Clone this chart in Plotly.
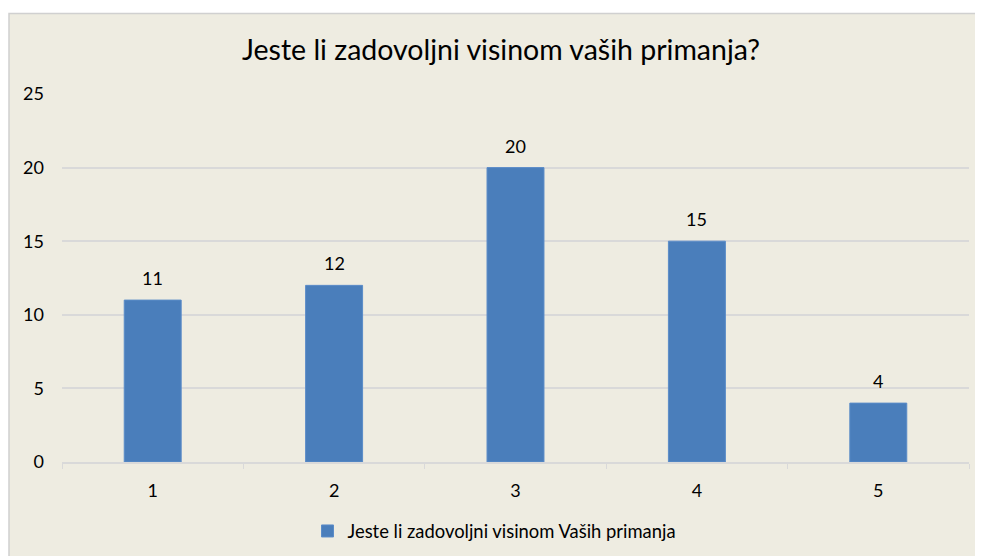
import plotly.graph_objects as go

categories = ["1", "2", "3", "4", "5"]
values = [11, 12, 20, 15, 4]
series_name = "Jeste li zadovoljni visinom Vaših primanja"
title_text = "Jeste li zadovoljni visinom vaših primanja?"
y_ticks = [0, 5, 10, 15, 20, 25]

FONT = "Lato"
BG = "#EEECE1"
BAR = "#4A7EBB"
GRID = "#D9D9D9"

# page body has an 8px margin -> figure is drawn at (8, 8)
W, H = 975, 548
L, R, T, B = 54, 14, 86, 94
PW, PH = W - L - R, H - T - B

fig = go.Figure()
fig.add_trace(go.Bar(
    x=categories, y=values, name=series_name,
    marker=dict(color=BAR, line=dict(color="#5B8CC8", width=1)),
    showlegend=True,
))

for i, v in enumerate(values):
    fig.add_annotation(x=i, y=v, text=str(v), showarrow=False,
                       yanchor="bottom", yshift=9,
                       font=dict(family=FONT, size=18, color="#000000"))

fig.add_shape(type="rect", xref="paper", yref="paper",
              x0=(1 - L) / PW, x1=(W + 10 - L) / PW,
              y0=-(B + 10) / PH, y1=1 + (T - 5.5) / PH,
              fillcolor=BG, line=dict(color="#D0D0D0", width=1.5), layer="below")

fig.update_layout(
    width=W, height=H,
    margin=dict(l=L, r=R, t=T, b=B, autoexpand=False),
    paper_bgcolor="white", plot_bgcolor=BG,
    title=dict(text=title_text, x=(501 - 62) / PW, xref="paper", xanchor="center",
               y=1 - 42 / H, yanchor="middle",
               font=dict(family=FONT, size=28.5, color="#000000")),
    font=dict(family=FONT, size=18, color="#000000"),
    bargap=0.686,
    legend=dict(orientation="h", x=0.5 - 21 / PW, xanchor="center", y=(454 - 523) / PH,
                yanchor="middle", font=dict(family=FONT, size=18.4, color="#000000"),
                bgcolor="rgba(0,0,0,0)"),
    xaxis=dict(type="category", range=[-0.5, 4.5], showgrid=False, showline=True,
               linecolor=GRID, linewidth=1.5, automargin=False,
               ticks="outside", tickson="boundaries", ticklen=5, tickcolor=GRID,
               tickfont=dict(family=FONT, size=18, color="#000000"),
               ticklabelstandoff=12),
    yaxis=dict(range=[0, 25], tickvals=y_ticks, showgrid=True, gridcolor=GRID,
               gridwidth=1.5, zeroline=False, showline=False, ticks="", automargin=False,
               tickfont=dict(family=FONT, size=18, color="#000000"),
               ticklabelstandoff=17),
)

fig.write_html("out.html")
